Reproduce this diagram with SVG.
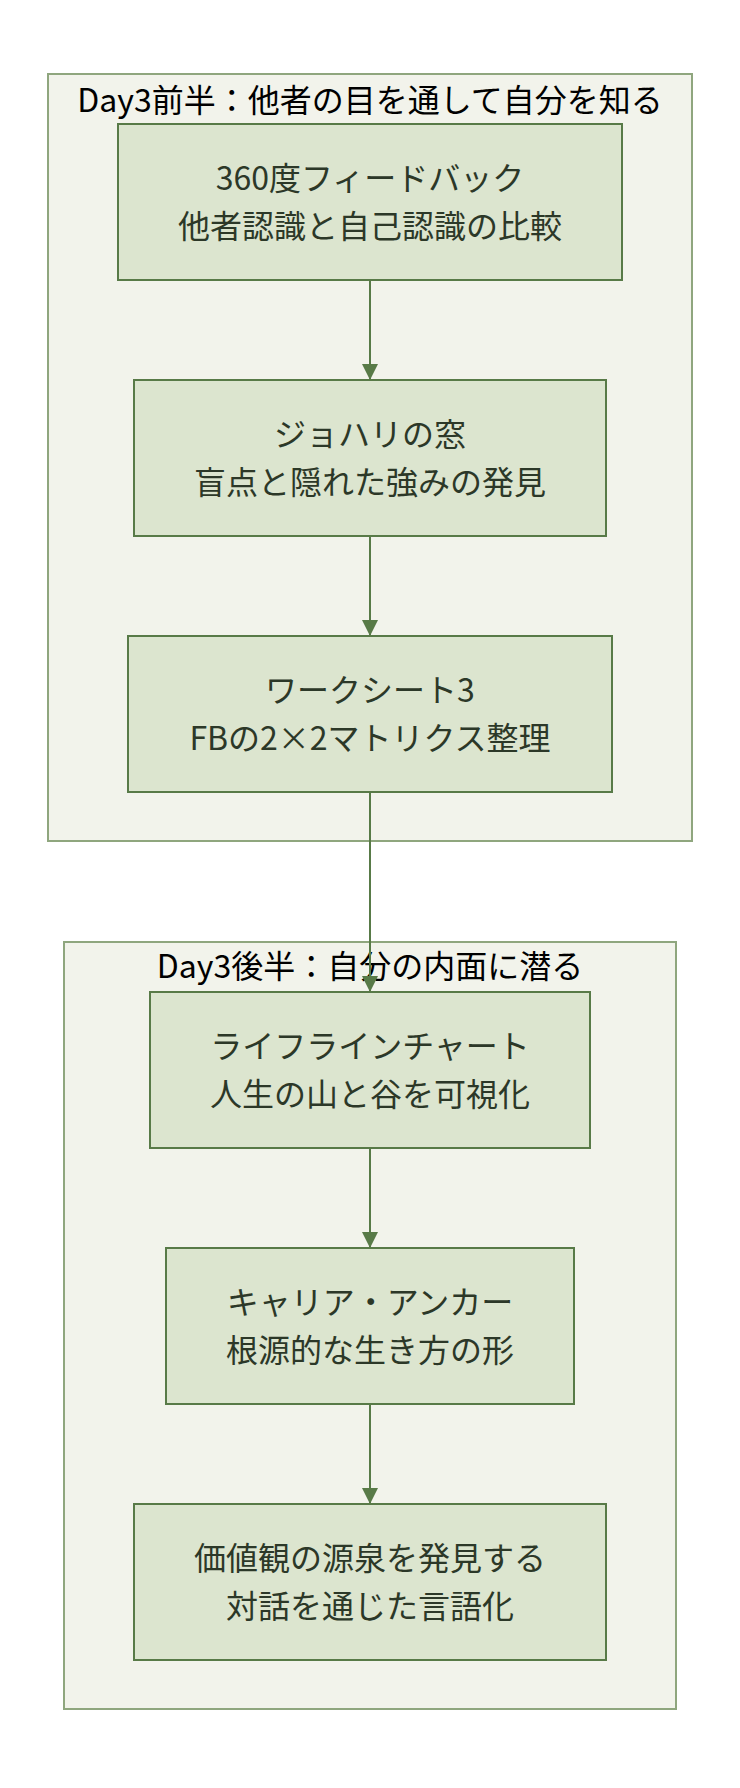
<svg xmlns="http://www.w3.org/2000/svg" width="740" height="1788" viewBox="0 0 740 1788">
<style>
.cluster{fill:#f2f3eb;stroke:#8fa67e;stroke-width:2}
.node{fill:#dce5cf;stroke:#587a47;stroke-width:2}
.ctitle{font-family:"Noto Sans CJK JP","Noto Sans",sans-serif;font-size:32px;fill:#000;text-anchor:middle}
.ntext{font-family:"Noto Sans CJK JP","Noto Sans",sans-serif;font-size:32px;fill:#2c3828;text-anchor:middle}
.edge{stroke:#587a47;stroke-width:2;fill:none}
</style>
<defs>
<marker id="arrow" viewBox="0 0 16 16" refX="16" refY="8" markerWidth="16" markerHeight="16" markerUnits="userSpaceOnUse" orient="auto">
<path d="M0,0 L16,8 L0,16 Z" fill="#587a47"/>
</marker>
</defs>
<rect width="740" height="1788" fill="#ffffff"/>
<g id="cluster1">
<rect class="cluster" x="48" y="74" width="644" height="767"/>
<text class="ctitle" x="370" y="112">Day3前半：他者の目を通して自分を知る</text>
</g>
<g id="cluster2">
<rect class="cluster" x="64" y="942" width="612" height="767"/>
<text class="ctitle" x="370" y="978">Day3後半：自分の内面に潜る</text>
</g>
<g id="connectors">
<line class="edge" x1="370" y1="280" x2="370" y2="380" marker-end="url(#arrow)"/>
<line class="edge" x1="370" y1="536" x2="370" y2="636" marker-end="url(#arrow)"/>
<line class="edge" x1="370" y1="792" x2="370" y2="992" marker-end="url(#arrow)"/>
<line class="edge" x1="370" y1="1148" x2="370" y2="1248" marker-end="url(#arrow)"/>
<line class="edge" x1="370" y1="1404" x2="370" y2="1504" marker-end="url(#arrow)"/>
</g>
<g id="node1">
<rect class="node" x="118" y="124" width="504" height="156"/>
<text class="ntext" x="370" y="190">360度フィードバック</text>
<text class="ntext" x="370" y="238">他者認識と自己認識の比較</text>
</g>
<g id="node2">
<rect class="node" x="134" y="380" width="472" height="156"/>
<text class="ntext" x="370" y="446">ジョハリの窓</text>
<text class="ntext" x="370" y="494">盲点と隠れた強みの発見</text>
</g>
<g id="node3">
<rect class="node" x="128" y="636" width="484" height="156"/>
<text class="ntext" x="370" y="702">ワークシート3</text>
<text class="ntext" x="370" y="750">FBの2×2マトリクス整理</text>
</g>
<g id="node4">
<rect class="node" x="150" y="992" width="440" height="156"/>
<text class="ntext" x="370" y="1058">ライフラインチャート</text>
<text class="ntext" x="370" y="1106">人生の山と谷を可視化</text>
</g>
<g id="node5">
<rect class="node" x="166" y="1248" width="408" height="156"/>
<text class="ntext" x="370" y="1314">キャリア・アンカー</text>
<text class="ntext" x="370" y="1362">根源的な生き方の形</text>
</g>
<g id="node6">
<rect class="node" x="134" y="1504" width="472" height="156"/>
<text class="ntext" x="370" y="1570">価値観の源泉を発見する</text>
<text class="ntext" x="370" y="1618">対話を通じた言語化</text>
</g>
</svg>
